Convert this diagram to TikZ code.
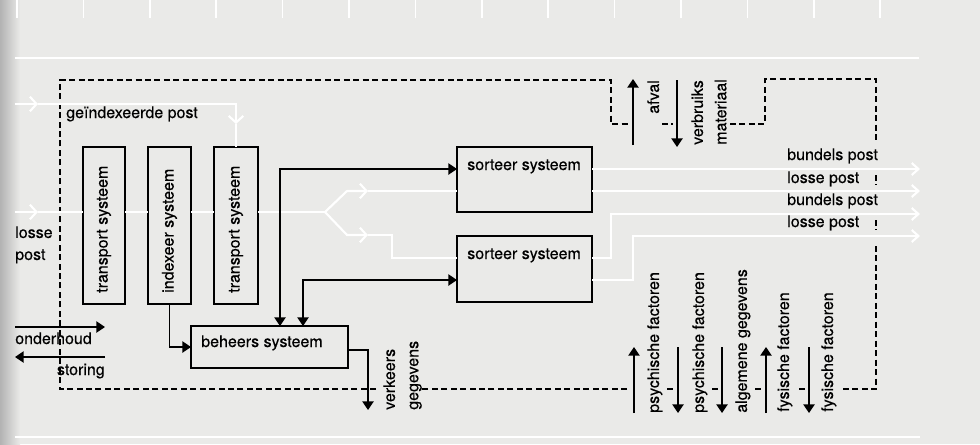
\documentclass[tikz,border=0pt]{standalone}
\usepackage{fontspec}
\setmainfont{TeX Gyre Heros}[FakeBold=0.35]
\usetikzlibrary{arrows.meta}
\definecolor{paper}{HTML}{EAEAE8}
\tikzset{
  box/.style={draw, line width=1.1pt, fill=paper, inner sep=0pt, outer sep=0pt},
  ctl/.style={line width=1.1pt},
  flow/.style={white, line width=1.6pt},
  chev/.style={-{Straight Barb[length=5pt,width=11pt]}},
  chevend/.style={-{Straight Barb[length=5pt,width=9pt]}},
  bnd/.style={line width=1pt, dash pattern=on 4.5pt off 2.6pt},
  lbl/.style={font=\fontsize{12}{17.5}\selectfont, inner sep=0pt},
  uplbl/.style={lbl, rotate=90, anchor=north west, align=left},
  >={Triangle[length=6.5pt,width=8.5pt]},
}

\begin{document}
\begin{tikzpicture}[x=0.75pt,y=-0.75pt]
\fill[paper] (0,0) rectangle (980,444);
\shade[left color=black!30, right color=paper] (0,0) rectangle (20,444);
\useasboundingbox (0,0) rectangle (980,444);
% ruler of the page
\foreach \i in {0,...,13}
  \draw[white, line width=1.2pt] (17+66.4*\i,0) -- (17+66.4*\i,18);
\draw[white, line width=1.6pt] (15,58) -- (919,58);
\draw[white, line width=1.6pt] (15,437) -- (920,437);

% system boundary
\draw[bnd] (376,389) -- (60,389) -- (60,80) -- (611,80) -- (611,124) -- (630,124);
\draw[bnd] (627,389) -- (420,389);
\draw[bnd] (662,124) -- (673,124);
\draw[bnd] (730,124) -- (765,124) -- (765,79) -- (876,79) -- (876,143);
\draw[bnd] (876,175) -- (876,185);
\draw[bnd] (876,220) -- (876,230);
\draw[bnd] (876,246) -- (876,389) -- (842,389);
\foreach \x in {670,715,758,802}
  \draw[bnd] (\x-3,389) -- (\x+3,389);

% systems
\node[box, minimum width=31.5pt, minimum height=117.75pt] (tra1) at (104,225.5) {};
\node[box, minimum width=32.25pt, minimum height=117.75pt] (idx) at (169.5,225.5) {};
\node[box, minimum width=33pt, minimum height=117.75pt] (tra2) at (236,225.5) {};
\node[box, minimum width=117.75pt, minimum height=31.5pt] (beh) at (269.5,347) {};
\node[box, minimum width=101.25pt, minimum height=48.75pt] (srt1) at (524.5,179.5) {};
\node[box, minimum width=101.25pt, minimum height=49.5pt] (srt2) at (524.5,269) {};

\node[lbl, rotate=90, anchor=west] at (tra1.south |- 0,293) {transport systeem};
\node[lbl, rotate=90, anchor=west] at (idx.south |- 0,293) {indexeer systeem};
\node[lbl, rotate=90, anchor=west] at (tra2.south |- 0,293) {transport systeem};
\node[lbl, anchor=base west] at (201,347) {beheers systeem};
\node[lbl, anchor=base west] at (467,170) {sorteer systeem};
\node[lbl, anchor=base west] at (467,259) {sorteer systeem};

% mail flow
\draw[flow,chev] (15,104) -- (38,104);
\draw[flow,chev] (38,104) -| (236,124);
\draw[flow] (236,124) -- (tra2.north);
\draw[flow,chev] (15,212) -- (38,212);
\draw[flow] (38,212) -- (tra1.west |- 0,212)
  (tra1.east |- 0,212) -- (idx.west |- 0,212)
  (idx.east |- 0,212) -- (tra2.west |- 0,212)
  (tra2.east |- 0,212) -- (325,212) coordinate (split);
\draw[flow,chev] (split) -- (347,191) -- (368,191);
\draw[flow] (368,191) -- (srt1.west |- 0,191);
\draw[flow,chev] (split) -- (347,235) -- (368,235);
\draw[flow] (368,235) -- (392,235) |- (srt2.west |- 0,258);
\draw[flow,chevend] (srt1.east |- 0,169) -- (920,169);
\draw[flow,chevend] (srt1.east |- 0,191) -- (920,191);
\draw[flow,chevend] (srt2.east |- 0,258) -| (611,214) -- (920,214);
\draw[flow,chevend] (srt2.east |- 0,280) -| (633,236) -- (920,236);

% control
\draw[ctl,->] (idx.south) |- (beh.west);
\draw[ctl,<->] (beh.north -| 280,0) |- (srt1.west |- 0,169);
\draw[ctl,<->] (beh.north -| 303,0) |- (srt2.west |- 0,280);
\draw[ctl,->] (beh.east |- 0,350) -| (368,410) coordinate (vk);
\draw[ctl,->] (15,327) -- (105,327);
\draw[ctl,->] (105,357) -- (15,357);
\draw[ctl,->] (633,145) -- (633,79);
\draw[ctl,->] (677,80) -- (677,147);
\foreach \x in {634,766}
  \draw[ctl,->] (\x,413) -- (\x,347);
\foreach \x in {678,722,809}
  \draw[ctl,->] (\x,347) -- (\x,413);

% texts
\node[lbl, anchor=base west] at (66,118) {geïndexeerde post};
\node[lbl, anchor=north west, align=left, font=\fontsize{12}{16.5}\selectfont] at (15,226) {losse\\post};
\node[lbl, anchor=base west] at (15,344) {onderhoud};
\node[lbl, anchor=base east] at (105,375) {storing};
\node[uplbl] at (383,410) {verkeers\\gegevens};
\node[lbl, rotate=90, anchor=north east] at (647,80) {afval};
\node[uplbl] at (691,145) {verbruiks\\materiaal};
\node[uplbl] at (647,413) {psychische factoren};
\node[uplbl] at (692,413) {psychische factoren};
\node[uplbl] at (735,413) {algemene gegevens};
\node[uplbl] at (777,412) {fysische factoren};
\node[uplbl] at (821,412) {fysische factoren};
\node[lbl, anchor=base west] at (787,160) {bundels post};
\node[lbl, anchor=base west] at (787,183) {losse post};
\node[lbl, anchor=base west] at (787,205) {bundels post};
\node[lbl, anchor=base west] at (787,227) {losse post};
\end{tikzpicture}
\end{document}
